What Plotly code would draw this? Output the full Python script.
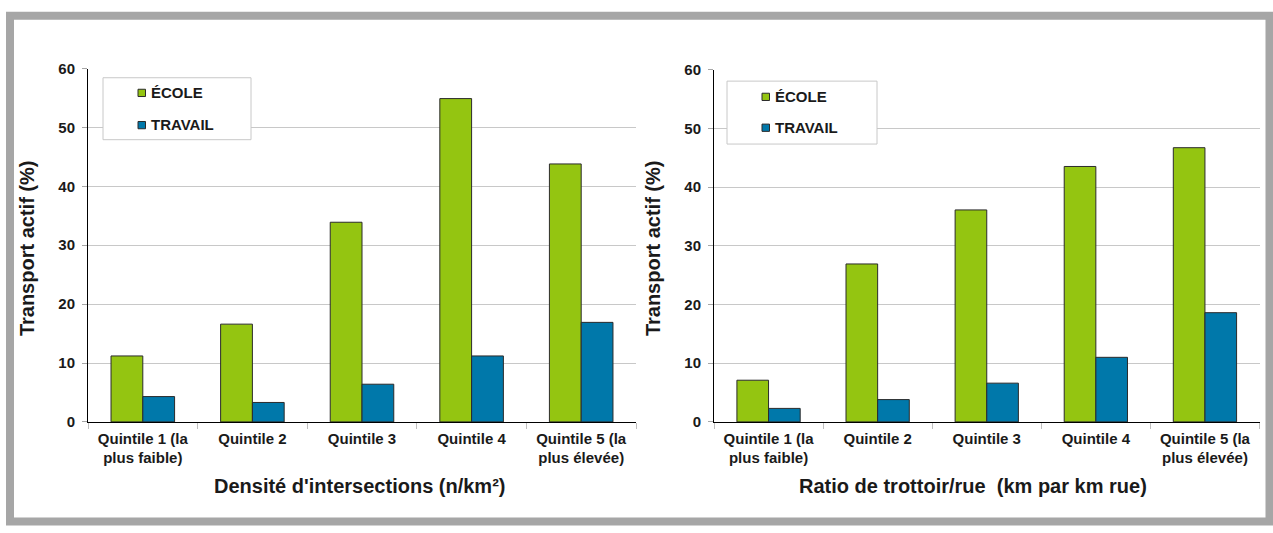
import plotly.graph_objects as go

# Data
categories = ["Quintile 1 (la<br>plus faible)", "Quintile 2", "Quintile 3",
              "Quintile 4", "Quintile 5 (la<br>plus élevée)"]
series_names = ["ÉCOLE", "TRAVAIL"]
densite_ecole = [11.2, 16.6, 33.9, 54.9, 43.8]
densite_travail = [4.3, 3.3, 6.4, 11.2, 16.9]
trottoir_ecole = [7.1, 26.9, 36.1, 43.5, 46.7]
trottoir_travail = [2.3, 3.8, 6.6, 11.0, 18.6]
y_ticks = [0, 10, 20, 30, 40, 50, 60]
x_titles = ["Densité d'intersections (n/km²)", "Ratio de trottoir/rue  (km par km rue)"]
y_title = "Transport actif (%)"

W, H = 1273, 533
GREEN = "#94C511"
BLUE = "#0078AA"
FONT = "Liberation Sans, Arial, sans-serif"


def px(x):
    return x / W


def py(y):
    return 1 - y / H


fig = go.Figure()

panels = [
    dict(xa="x", ya="y", ecole=densite_ecole, travail=densite_travail),
    dict(xa="x2", ya="y2", ecole=trottoir_ecole, travail=trottoir_travail),
]
for p in panels:
    for name, vals, color in [(series_names[0], p["ecole"], GREEN),
                              (series_names[1], p["travail"], BLUE)]:
        fig.add_trace(go.Bar(
            x=categories, y=vals, name=name, xaxis=p["xa"], yaxis=p["ya"],
            marker=dict(color=color, line=dict(color="#2b2b2b", width=1)),
            showlegend=False,
        ))

# plot areas in pixels
areas = [
    dict(x0=88, x1=636, y0=61.5, y1=426.5),
    dict(x0=714, x1=1259.5, y0=62.6, y1=426.5),
]

common_x = dict(
    type="category", showline=True, linecolor="black", linewidth=1,
    ticks="outside", tickson="boundaries", ticklen=6, tickcolor="#BFBFBF",
    tickfont=dict(family=FONT, size=15, color="#1a1a1a", weight="bold"),
    showgrid=False, fixedrange=True, ticklabelstandoff=3,
)
common_y = dict(
    range=[0, 60], tickvals=y_ticks, showline=True, linecolor="black", linewidth=1,
    ticks="outside", ticklen=5, tickcolor="#A6A6A6",
    tickfont=dict(family=FONT, size=15, color="#1a1a1a", weight="bold"),
    showgrid=True, gridcolor="#C8C8C8", gridwidth=1, zeroline=False,
    ticklabelstandoff=4,
)

fig.update_layout(
    width=W, height=H,
    margin=dict(l=0, r=0, t=0, b=0),
    paper_bgcolor="white", plot_bgcolor="white",
    barmode="group", bargap=0.42, bargroupgap=0,
    xaxis=dict(common_x, domain=[px(areas[0]["x0"]), px(areas[0]["x1"])], anchor="y"),
    yaxis=dict(common_y, domain=[py(areas[0]["y1"]), py(areas[0]["y0"])], anchor="x"),
    xaxis2=dict(common_x, domain=[px(areas[1]["x0"]), px(areas[1]["x1"])], anchor="y2"),
    yaxis2=dict(common_y, domain=[py(areas[1]["y1"]), py(areas[1]["y0"])], anchor="x2"),
)

shapes = []
annotations = []

# outer frame
shapes.append(dict(type="rect", xref="paper", yref="paper",
                   x0=px(10), x1=px(1269.5), y0=py(529.5), y1=py(7),
                   line=dict(color="#A6A6A6", width=8), fillcolor="rgba(0,0,0,0)",
                   layer="above"))

title_font = dict(family=FONT, size=20, color="#1a1a1a", weight="bold")
# axis titles
annotations.append(dict(text=x_titles[0], xref="paper", yref="paper",
                        x=px(359), y=py(493), showarrow=False, font=title_font,
                        xanchor="center", yanchor="middle"))
annotations.append(dict(text=x_titles[1], xref="paper", yref="paper",
                        x=px(973), y=py(493), showarrow=False, font=title_font,
                        xanchor="center", yanchor="middle"))
annotations.append(dict(text=y_title, xref="paper", yref="paper",
                        x=px(27), y=py(247), showarrow=False, font=title_font,
                        textangle=-90, xanchor="center", yanchor="middle"))
annotations.append(dict(text=y_title, xref="paper", yref="paper",
                        x=px(653), y=py(247), showarrow=False, font=title_font,
                        textangle=-90, xanchor="center", yanchor="middle"))

# legend boxes
legend_font = dict(family=FONT, size=15, color="#1a1a1a", weight="bold")
legends = [
    dict(box=(103, 251, 71, 135), sq_x=138, txt_x=149, rows=(86.4, 119.7)),
    dict(box=(727, 877, 74.5, 139.5), sq_x=762, txt_x=773, rows=(90.5, 122.4)),
]
for lg in legends:
    bx0, bx1, by0, by1 = lg["box"]
    shapes.append(dict(type="rect", xref="paper", yref="paper",
                       x0=px(bx0), x1=px(bx1), y0=py(by1), y1=py(by0),
                       line=dict(color="#C8C8C8", width=1), fillcolor="white",
                       layer="above"))
    for name, color, ry in zip(series_names, [GREEN, BLUE], lg["rows"]):
        shapes.append(dict(type="rect", xref="paper", yref="paper",
                           x0=px(lg["sq_x"]), x1=px(lg["sq_x"] + 7.5),
                           y0=py(ry + 4), y1=py(ry - 3.5),
                           line=dict(color="#2b2b2b", width=1), fillcolor=color,
                           layer="above"))
        annotations.append(dict(text=name, xref="paper", yref="paper",
                                x=px(lg["txt_x"]), y=py(ry), showarrow=False,
                                font=legend_font, xanchor="left", yanchor="middle"))

fig.update_layout(shapes=shapes, annotations=annotations)

fig.write_html("out.html")
